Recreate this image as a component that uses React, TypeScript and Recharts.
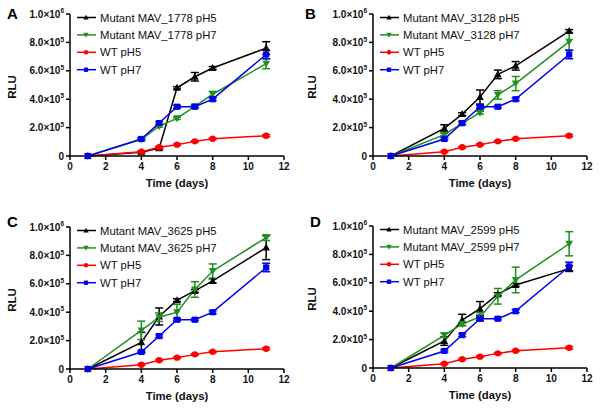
import React from 'react';
import { LineChart, Line, XAxis, YAxis, ErrorBar, Legend, Label } from 'recharts';

// time points (days) and axis ticks
const days = [1, 4, 5, 6, 7, 8, 11];
const xTicks = [0, 2, 4, 6, 8, 10, 12];
const yTicks = [0, 200000, 400000, 600000, 800000, 1000000];

// wild type, same in every panel
const wtPH5 = [0, 30000, 62000, 80000, 103000, 121000, 143000];
const wtPH5Err = [0, 5000, 5000, 5000, 5000, 5000, 8000];
const wtPH7 = [0, 120000, 232000, 347000, 347000, 400000, 715000];
const wtPH7Err = [0, 8000, 10000, 10000, 8000, 10000, 30000];

// A
const mav1778PH5 = [0, 27000, 55000, 480000, 558000, 620000, 760000];
const mav1778PH5Err = [0, 5000, 8000, 8000, 30000, 10000, 45000];
const mav1778PH7 = [0, 117000, 210000, 265000, 350000, 435000, 650000];
const mav1778PH7Err = [0, 8000, 8000, 8000, 10000, 20000, 35000];

// B
const mav3128PH5 = [0, 195000, 295000, 415000, 575000, 635000, 880000];
const mav3128PH5Err = [0, 25000, 10000, 50000, 30000, 30000, 10000];
const mav3128PH7 = [0, 150000, 230000, 305000, 430000, 510000, 805000];
const mav3128PH7Err = [0, 10000, 10000, 10000, 30000, 50000, 60000];

// C
const mav3625PH5 = [0, 188000, 370000, 485000, 550000, 620000, 855000];
const mav3625PH5Err = [0, 70000, 60000, 10000, 10000, 15000, 85000];
const mav3625PH7 = [0, 272000, 365000, 400000, 560000, 690000, 925000];
const mav3625PH7Err = [0, 65000, 30000, 55000, 55000, 50000, 20000];

// D
const mav2599PH5 = [0, 190000, 338000, 418000, 520000, 585000, 700000];
const mav2599PH5Err = [0, 30000, 40000, 50000, 10000, 10000, 20000];
const mav2599PH7 = [0, 230000, 310000, 360000, 505000, 620000, 875000];
const mav2599PH7Err = [0, 15000, 10000, 30000, 55000, 90000, 85000];

const FONT = '"Liberation Sans", Arial, Helvetica, sans-serif';
const BLACK = '#000000';
const GREEN = '#1f8f1f';
const RED = '#ff0000';
const BLUE = '#0000ee';

type Shape = 'up' | 'down' | 'circle' | 'square';

function Marker({ cx, cy, shape, color, s = 1 }: { cx: number; cy: number; shape: Shape; color: string; s?: number }) {
  if (cx == null || cy == null) return null;
  if (shape === 'up')
    return <polygon points={`${cx},${cy - 4 * s} ${cx - 3.8 * s},${cy + 3 * s} ${cx + 3.8 * s},${cy + 3 * s}`} fill={color} />;
  if (shape === 'down')
    return <polygon points={`${cx},${cy + 4 * s} ${cx - 3.8 * s},${cy - 3 * s} ${cx + 3.8 * s},${cy - 3 * s}`} fill={color} />;
  if (shape === 'circle') return <circle cx={cx} cy={cy} r={3.2 * s} fill={color} />;
  return <rect x={cx - 3.1 * s} y={cy - 3.1 * s} width={6.2 * s} height={6.2 * s} fill={color} />;
}

function YTick(props: any) {
  const { x, y, payload } = props;
  const v = payload.value;
  const style = { fontSize: 10, fontWeight: 700, fill: '#111', fontFamily: FONT };
  if (!v) {
    return (
      <text x={x} y={y} dy={3.6} textAnchor="end" {...style}>
        0
      </text>
    );
  }
  const exp = Math.floor(Math.log10(v) + 1e-9);
  const mant = (v / Math.pow(10, exp)).toFixed(1);
  return (
    <text x={x} y={y} dy={3.6} textAnchor="end" {...style}>
      <tspan>{mant}×10</tspan>
      <tspan dy={-4.5} fontSize={6.5}>
        {exp}
      </tspan>
    </text>
  );
}

function RluLabel(props: any) {
  const vb = props.viewBox || { x: 0, y: 0, width: 0, height: 0 };
  const cx = vb.x + 11.5;
  const cy = vb.y + vb.height / 2 + 2;
  return (
    <text
      x={cx}
      y={cy}
      transform={`rotate(-90 ${cx} ${cy})`}
      textAnchor="middle"
      dominantBaseline="central"
      fontSize={11.5}
      fontWeight={700}
      fontFamily={FONT}
      fill="#111"
    >
      RLU
    </text>
  );
}

interface SeriesDef {
  key: string;
  name: string;
  color: string;
  shape: Shape;
}

function LegendBox({ items }: { items: SeriesDef[] }) {
  return (
    <svg width={200} height={72} style={{ display: 'block', overflow: 'visible' }}>
      {items.map((it, i) => {
        const cy = 8.5 + 17.4 * i;
        return (
          <g key={it.key}>
            <line x1={1} x2={20} y1={cy} y2={cy} stroke={it.color} strokeWidth={1.5} />
            <Marker cx={10} cy={cy} shape={it.shape} color={it.color} s={0.7} />
            <text x={24} y={cy + 4} fontSize={11.3} fontFamily={FONT} fill="#111">
              {it.name}
            </text>
          </g>
        );
      })}
    </svg>
  );
}

interface PanelProps {
  letter: string;
  mutant: string;
  m5: number[];
  m5e: number[];
  m7: number[];
  m7e: number[];
  left: number;
  top: number;
  yW: number;
  rightM: number;
  letterX: number;
  letterTop: number;
}

function Panel({ letter, mutant, m5, m5e, m7, m7e, left, top, yW, rightM, letterX, letterTop }: PanelProps) {
  const nz = (v: number) => (v ? v : null);
  const rows = days.map((d, i) => ({
    day: d,
    m5: m5[i],
    m5e: nz(m5e[i]),
    m7: m7[i],
    m7e: nz(m7e[i]),
    w5: wtPH5[i],
    w5e: nz(wtPH5Err[i]),
    w7: wtPH7[i],
    w7e: nz(wtPH7Err[i]),
  }));

  const series: SeriesDef[] = [
    { key: 'm5', name: `Mutant ${mutant} pH5`, color: BLACK, shape: 'up' },
    { key: 'm7', name: `Mutant ${mutant} pH7`, color: GREEN, shape: 'down' },
    { key: 'w5', name: 'WT pH5', color: RED, shape: 'circle' },
    { key: 'w7', name: 'WT pH7', color: BLUE, shape: 'square' },
  ];

  const axisStroke = { stroke: '#000', strokeWidth: 1.5 };

  return (
    <>
      <div
        style={{
          position: 'absolute',
          left: letterX,
          top: letterTop,
          fontSize: 15,
          lineHeight: '15px',
          fontWeight: 700,
          fontFamily: FONT,
          color: '#000',
        }}
      >
        {letter}
      </div>
      <div style={{ position: 'absolute', left, top }}>
        <LineChart width={300} height={204} data={rows} margin={{ top: 14, right: rightM, bottom: 0, left: 0 }}>
          <XAxis
            dataKey="day"
            type="number"
            domain={[0, 12]}
            ticks={xTicks}
            interval={0}
            height={48}
            tickSize={4}
            tickMargin={3}
            axisLine={axisStroke}
            tickLine={axisStroke}
            tick={{ fontSize: 10, fontWeight: 700, fill: '#111', fontFamily: FONT }}
          >
            <Label
              value="Time (days)"
              position="insideBottom"
              offset={17}
              style={{ fontSize: 11.3, fontWeight: 700, fill: '#111', fontFamily: FONT }}
            />
          </XAxis>
          <YAxis
            type="number"
            domain={[0, 1000000]}
            ticks={yTicks}
            interval={0}
            width={yW}
            tickSize={4}
            tickMargin={2}
            axisLine={axisStroke}
            tickLine={axisStroke}
            tick={<YTick />}
          >
            <Label content={RluLabel} />
          </YAxis>
          <Legend
            layout="horizontal"
            align="center"
            verticalAlign="middle"
            wrapperStyle={{ left: yW + 6, top: 8.8, width: 200, height: 72 }}
            content={() => <LegendBox items={series} />}
          />
          {series.map((s) => (
            <Line
              key={s.key}
              type="linear"
              dataKey={s.key}
              name={s.name}
              stroke={s.color}
              strokeWidth={1.5}
              isAnimationActive={false}
              activeDot={false}
              dot={(p: any) => <Marker key={`${s.key}-${p.index}`} cx={p.cx} cy={p.cy} shape={s.shape} color={s.color} />}
            >
              <ErrorBar dataKey={`${s.key}e`} width={4} strokeWidth={1.5} stroke={s.color} direction="y" />
            </Line>
          ))}
        </LineChart>
      </div>
    </>
  );
}

export default function App() {
  return (
    <div
      style={{
        position: 'absolute',
        left: 0,
        top: 0,
        width: 600,
        height: 408,
        background: '#fff',
        overflow: 'hidden',
      }}
    >
      <Panel letter="A" mutant="MAV_1778" m5={mav1778PH5} m5e={mav1778PH5Err} m7={mav1778PH7} m7e={mav1778PH7Err}
        left={0} top={0} yW={70} rightM={16} letterX={7} letterTop={6} />
      <Panel letter="B" mutant="MAV_3128" m5={mav3128PH5} m5e={mav3128PH5Err} m7={mav3128PH7} m7e={mav3128PH7Err}
        left={300} top={0} yW={73} rightM={13} letterX={305} letterTop={6} />
      <Panel letter="C" mutant="MAV_3625" m5={mav3625PH5} m5e={mav3625PH5Err} m7={mav3625PH7} m7e={mav3625PH7Err}
        left={0} top={213} yW={70} rightM={16} letterX={7} letterTop={214} />
      <Panel letter="D" mutant="MAV_2599" m5={mav2599PH5} m5e={mav2599PH5Err} m7={mav2599PH7} m7e={mav2599PH7Err}
        left={300} top={212} yW={73} rightM={13} letterX={310} letterTop={214} />
    </div>
  );
}
